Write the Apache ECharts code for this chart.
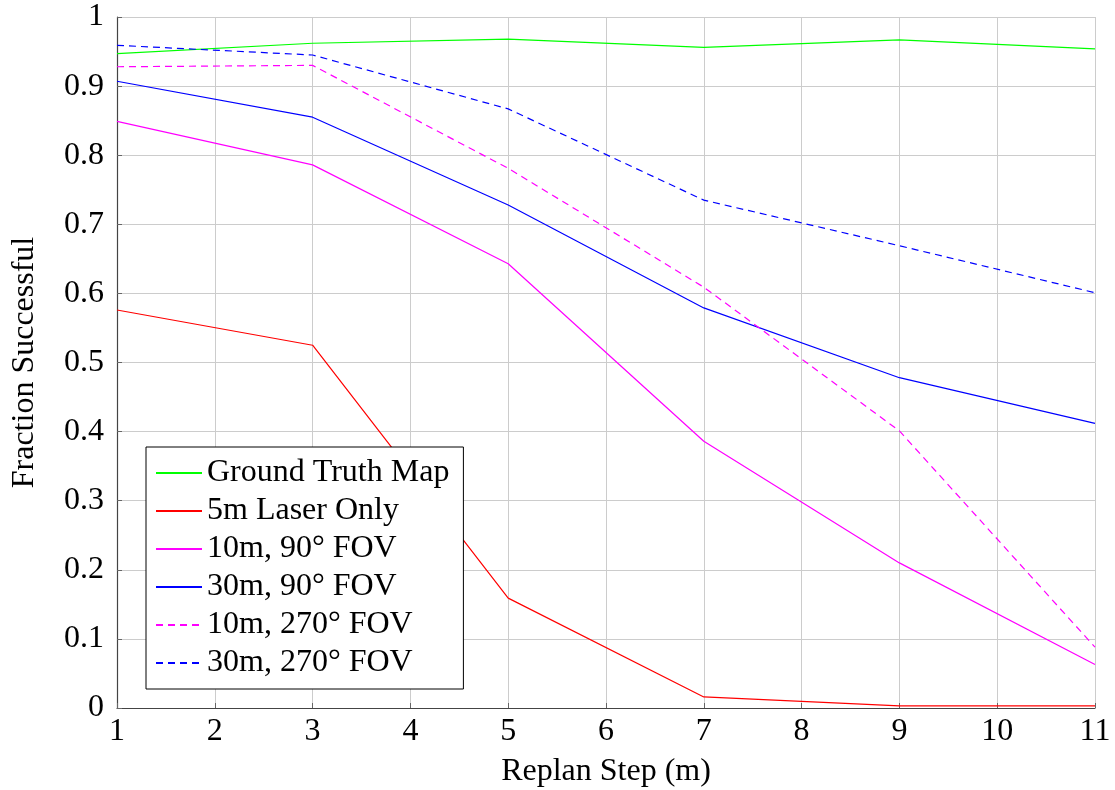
<!DOCTYPE html>
<html>
<head>
<meta charset="utf-8">
<script src="https://cdn.jsdelivr.net/npm/echarts@6/dist/echarts.min.js"></script>
<style>
  html, body { margin: 0; padding: 0; background: #fff; }
  #chart { width: 1115px; height: 790px; }
</style>
</head>
<body>
<div id="chart"></div>
<script>
// Replan step (m) at which each configuration was evaluated
const steps = [1, 3, 5, 7, 9, 11];

// Fraction of successful runs per sensing configuration
const groundTruth   = [0.947, 0.962, 0.968, 0.956, 0.967, 0.954];
const laser5m       = [0.576, 0.525, 0.159, 0.016, 0.003, 0.003];
const fov10m90      = [0.849, 0.786, 0.643, 0.386, 0.210, 0.063];
const fov30m90      = [0.907, 0.855, 0.728, 0.579, 0.478, 0.412];
const fov10m270     = [0.928, 0.930, 0.781, 0.609, 0.401, 0.088];
const fov30m270     = [0.959, 0.945, 0.867, 0.735, 0.669, 0.601];

const seriesNames = [
  'Ground Truth Map',
  '5m Laser Only',
  '10m, 90° FOV',
  '30m, 90° FOV',
  '10m, 270° FOV',
  '30m, 270° FOV'
];

const FONT = '"Liberation Serif", "DejaVu Serif", serif';
const FS = 32;

function pairs(values) {
  return steps.map((s, i) => [s, values[i]]);
}

function lineSeries(name, values, color, dashed) {
  return {
    name: name,
    type: 'line',
    data: pairs(values),
    symbol: 'none',
    showSymbol: false,
    animation: false,
    lineStyle: {
      color: color,
      width: 1.2,
      type: dashed ? [7, 5] : 'solid'
    },
    itemStyle: { color: color }
  };
}

const chart = echarts.init(document.getElementById('chart'), null, { renderer: 'canvas' });

chart.setOption({
  backgroundColor: '#ffffff',
  animation: false,
  grid: {
    left: 117, right: 20, top: 17, bottom: 82,
    containLabel: false,
    outerBoundsMode: 'none'
  },
  xAxis: {
    type: 'value',
    min: 1,
    max: 11,
    interval: 1,
    name: 'Replan Step (m)',
    nameLocation: 'middle',
    nameGap: 48,
    nameTextStyle: { fontFamily: FONT, fontSize: FS, color: '#000' },
    axisLine: { show: true, lineStyle: { color: '#444', width: 1.2 } },
    axisTick: { show: true, inside: true, length: 5, lineStyle: { color: '#666' } },
    axisLabel: { fontFamily: FONT, fontSize: FS, color: '#000', margin: 8 },
    splitLine: { show: true, lineStyle: { color: '#cccccc', width: 1 } }
  },
  yAxis: {
    type: 'value',
    min: 0,
    max: 1,
    interval: 0.1,
    name: 'Fraction Successful',
    nameLocation: 'middle',
    nameGap: 76,
    nameRotate: 90,
    nameTextStyle: { fontFamily: FONT, fontSize: FS, color: '#000' },
    axisLine: { show: true, lineStyle: { color: '#444', width: 1.2 } },
    axisTick: { show: true, inside: true, length: 5, lineStyle: { color: '#666' } },
    axisLabel: {
      fontFamily: FONT, fontSize: FS, color: '#000', margin: 13,
      formatter: v => String(+v.toFixed(1))
    },
    splitLine: { show: true, lineStyle: { color: '#cccccc', width: 1 } }
  },
  legend: {
    orient: 'vertical',
    left: 146,
    top: 447,
    data: seriesNames,
    itemWidth: 46,
    itemHeight: 10,
    itemGap: 6,
    padding: [10, 14, 10, 9],
    borderColor: '#000',
    borderWidth: 1,
    borderRadius: 0,
    backgroundColor: '#ffffff',
    itemStyle: { opacity: 0 },
    textStyle: { fontFamily: FONT, fontSize: FS, color: '#000', lineHeight: 32 }
  },
  series: [
    lineSeries(seriesNames[0], groundTruth, '#00ff00', false),
    lineSeries(seriesNames[1], laser5m, '#ff0000', false),
    lineSeries(seriesNames[2], fov10m90, '#ff00ff', false),
    lineSeries(seriesNames[3], fov30m90, '#0000ff', false),
    lineSeries(seriesNames[4], fov10m270, '#ff00ff', true),
    lineSeries(seriesNames[5], fov30m270, '#0000ff', true)
  ]
});
</script>
</body>
</html>
